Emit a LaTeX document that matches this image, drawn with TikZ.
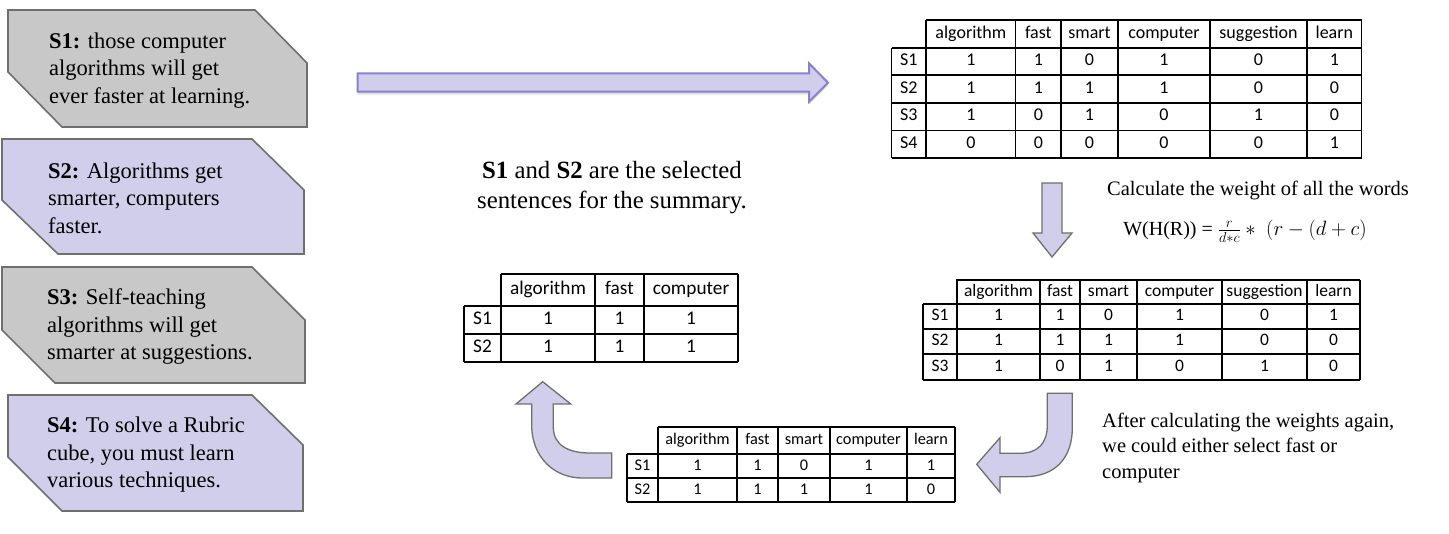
\documentclass[tikz,border=0pt]{standalone}
\usepackage{fontspec}
\setmainfont{Liberation Serif}
\newfontfamily\tabfont{Carlito}
\usetikzlibrary{shadows}
\definecolor{boxpurple}{HTML}{D0CEEB}
\definecolor{boxgray}{HTML}{C8C8C8}
\definecolor{edgegray}{HTML}{6F6F6F}
\definecolor{arrowedge}{HTML}{8A80D0}
\tikzset{
  sbox/.style={draw=edgegray, line width=1.6pt, line join=miter},
  gbox/.style={sbox, fill=boxgray},
  pbox/.style={sbox, fill=boxpurple},
  blockarrow/.style={draw=edgegray, line width=1.3pt, fill=boxpurple, line join=miter},
  stext/.style={anchor=west, align=left, font=\fontsize{22.5}{27.5}\selectfont, inner sep=0pt},
  tline/.style={draw=black, line width=1.3pt},
  thick box/.style={draw=black, line width=2.6pt},
  tcell/.style={inner sep=0pt, text height=0.63em, text depth=0em, yshift=-1pt},
  tta/.style={tcell, font=\tabfont\fontsize{18}{21}\selectfont},
  ttd/.style={tcell, font=\tabfont\fontsize{17.5}{21}\selectfont},
  ttb/.style={tcell, font=\tabfont\fontsize{16.3}{19}\selectfont},
  ttc/.style={tcell, font=\tabfont\fontsize{19.3}{22}\selectfont},
  note/.style={anchor=west, align=left, inner sep=0pt, font=\fontsize{20.5}{25.5}\selectfont},
}
\begin{document}
\begin{tikzpicture}[x=1pt,y=-1pt]
\useasboundingbox (0,0) rectangle (1449,534);

% ---------- sentence boxes ----------
\path[gbox] (8,10) -- (255,10) -- (307,63) -- (307,127) -- (62,127) -- (8,72) -- cycle;
\path[pbox] (2,139) -- (252,139) -- (304,190) -- (304,254) -- (58,254) -- (2,200) -- cycle;
\path[gbox] (2,267) -- (252,267) -- (305,320) -- (305,383) -- (55,383) -- (2,330) -- cycle;
\path[pbox] (8,395) -- (252,395) -- (303,445) -- (303,511) -- (62,511) -- (8,457) -- cycle;

\node[stext] (s1text) at (49,70.5) {\textbf{S1:} those computer\\algorithms will get\\ever faster at learning.};
\node[stext] (s2text) at (48,198) {\textbf{S2:} Algorithms get\\smarter, computers\\faster.};
\node[stext] (s3text) at (47,327) {\textbf{S3:} Self-teaching\\algorithms will get\\smarter at suggestions.};
\node[stext] (s4text) at (47,455) {\textbf{S4:} To solve a Rubric\\cube, you must learn\\various techniques.};

% ---------- top block arrow ----------
\path[draw=arrowedge, line width=2pt, fill=boxpurple, line join=miter,
      drop shadow={shadow xshift=0pt, shadow yshift=-3pt, opacity=0.25}]
  (357.7,73.3) -- (809,73.3) -- (809,63.3) -- (828,82.7) -- (809,101.7) -- (809,91.7) -- (357.7,91.7) -- cycle;

% ---------- table T1 (top right) ----------
\draw[tline] (926,20) -- (1361.7,20);
\foreach \y in {48,75,103,130.5,158} \draw[tline] (891.7,\y) -- (1361.7,\y);
\draw[tline] (891.7,48) -- (891.7,158);
\foreach \x in {926,1015.7,1061,1118,1210,1307,1361.7} \draw[tline] (\x,20) -- (\x,158);
\foreach \t/\cx [count=\i] in {algorithm/970.85,fast/1038.35,smart/1089.5,computer/1164,suggestion/1258.5,learn/1334.35}
  \node[tta] (t1h\i) at (\cx,34) {\t};
\foreach \r/\cy/\vals in {S1/61.5/{1,1,0,1,0,1},S2/89/{1,1,1,1,0,0},S3/116.75/{1,0,1,0,1,0},S4/144.25/{0,0,0,0,0,1}}{
  \node[tta] (t1\r) at (908.85,\cy) {\r};
  \foreach \v [count=\j] in \vals {
    \pgfmathsetmacro\cx{{970.85,1038.35,1089.5,1164,1258.5,1334.35}[\j-1]}
    \node[tta] (t1\r c\j) at (\cx,\cy) {\v};
  }
}

% ---------- down arrow + formula ----------
\path[blockarrow] (1042,183) -- (1062,183) -- (1062,233) -- (1072,233) -- (1052,257) -- (1033,233) -- (1042,233) -- cycle;
\node[anchor=west, inner sep=0pt, font=\fontsize{20.5}{24}\selectfont] (calc) at (1107,190) {Calculate the weight of all the words};
\node[inner sep=0pt, font=\fontsize{20}{24}\selectfont] (formula) at (1245,231) {W(H(R)) = $\frac{r}{d*c}\ast\;(r-(d+c)$};

% ---------- table T2 (middle right) ----------
\draw[tline] (957,280) -- (1360,280);
\foreach \y in {304,329,354,380} \draw[tline] (923,\y) -- (1360,\y);
\draw[tline] (923,304) -- (923,380);
\foreach \x in {957,1040,1080,1137,1222,1307,1360} \draw[tline] (\x,280) -- (\x,380);
\draw[thick box] (957,280) rectangle (1040,380);
\foreach \t/\cx [count=\i] in {algorithm/998.5,fast/1060,smart/1108.5,computer/1179.5,suggestion/1264.5,learn/1333.5}
  \node[ttd] (t2h\i) at (\cx,292) {\t};
\foreach \r/\cy/\vals in {S1/316.5/{1,1,0,1,0,1},S2/341.5/{1,1,1,1,0,0},S3/367/{1,0,1,0,1,0}}{
  \node[ttd] (t2\r) at (940,\cy) {\r};
  \foreach \v [count=\j] in \vals {
    \pgfmathsetmacro\cx{{998.5,1060,1108.5,1179.5,1264.5,1333.5}[\j-1]}
    \node[ttd] (t2\r c\j) at (\cx,\cy) {\v};
  }
}

% ---------- curved arrow down-left ----------
\path[blockarrow] (1047.3,393.3) -- (1072.3,393.3) -- (1072.3,428)
  .. controls (1072.3,458) and (1055,476.7) .. (1025,476.7) -- (1000,476.7) -- (1000,492.3)
  -- (976.7,464.3) -- (1000,437.7) -- (1000,453.3) -- (1020,453.3)
  .. controls (1038,453.3) and (1047.3,443) .. (1047.3,425) -- cycle;
\node[note] (after) at (1102,447.5) {After calculating the weights again,\\we could either select fast or\\computer};

% ---------- table T4 (bottom) ----------
\draw[tline] (658,427) -- (955,427);
\foreach \y in {454,478,502} \draw[tline] (627,\y) -- (955,\y);
\draw[tline] (627,454) -- (627,502);
\foreach \x in {658,737,778,830,907,955} \draw[tline] (\x,427) -- (\x,502);
\foreach \t/\cx [count=\i] in {algorithm/697.5,fast/757.5,smart/804,computer/868.5,learn/931}
  \node[ttb] (t4h\i) at (\cx,440.5) {\t};
\foreach \r/\cy/\vals in {S1/466/{1,1,0,1,1},S2/490/{1,1,1,1,0}}{
  \node[ttb] (t4\r) at (642.5,\cy) {\r};
  \foreach \v [count=\j] in \vals {
    \pgfmathsetmacro\cx{{697.5,757.5,804,868.5,931}[\j-1]}
    \node[ttb] (t4\r c\j) at (\cx,\cy) {\v};
  }
}

% ---------- curved arrow up-left ----------
\path[blockarrow] (553.3,404) -- (570.7,404) -- (542.7,381.7) -- (516,404) -- (531.7,404) -- (531.7,425)
  .. controls (531.7,458) and (555,478) .. (582,478) -- (611.7,478) -- (611.7,453) -- (590,453)
  .. controls (568,453) and (553.3,445) .. (553.3,427) -- cycle;

% ---------- table T3 (middle left) ----------
\draw[tline] (501,274) -- (738,274);
\foreach \y in {306,334,362} \draw[tline] (464,\y) -- (738,\y);
\draw[tline] (464,306) -- (464,362);
\foreach \x in {501,595,644,738} \draw[tline] (\x,274) -- (\x,362);
\foreach \t/\cx [count=\i] in {algorithm/548,fast/619.5,computer/691}
  \node[ttc] (t3h\i) at (\cx,290) {\t};
\foreach \r/\cy/\vals in {S1/320/{1,1,1},S2/348/{1,1,1}}{
  \node[ttc] (t3\r) at (482.5,\cy) {\r};
  \foreach \v [count=\j] in \vals {
    \pgfmathsetmacro\cx{{548,619.5,691}[\j-1]}
    \node[ttc] (t3\r c\j) at (\cx,\cy) {\v};
  }
}

\node[align=center, inner sep=0pt, font=\fontsize{24.8}{30}\selectfont] (selected) at (612,188) {\textbf{S1} and \textbf{S2} are the selected\\sentences for the summary.};
\end{tikzpicture}
\end{document}
